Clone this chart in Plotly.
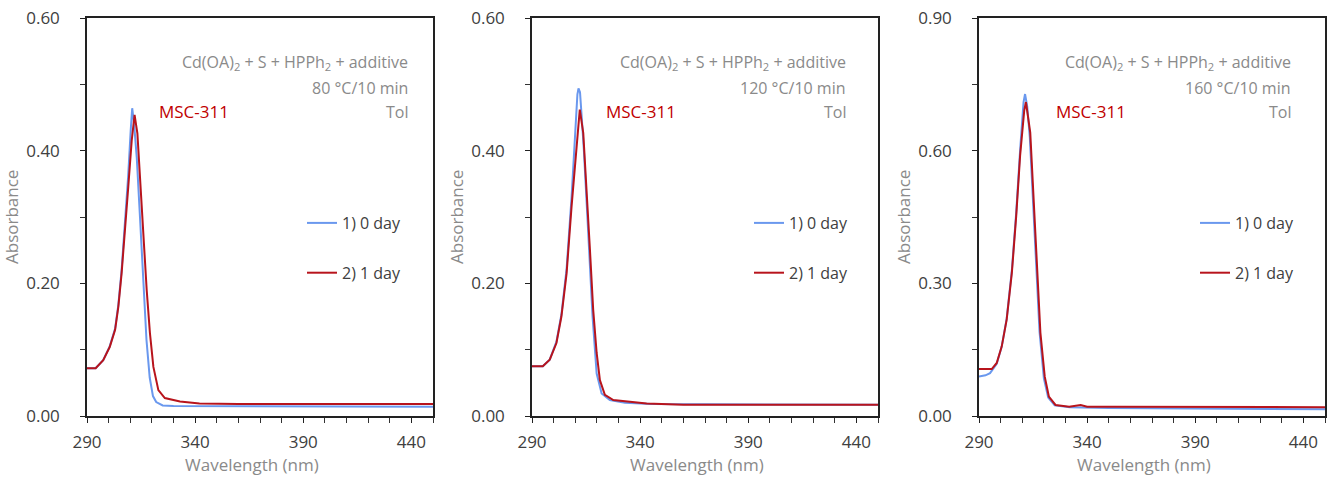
import plotly.graph_objects as go

# ---------------- data ----------------
p1_blue_x = [290, 294, 297.5, 300.5, 303, 304.5, 306, 307.5, 309, 310.2, 310.9, 311.8, 313, 314.5, 316, 317.5, 319, 320.5, 322, 325, 330, 340, 370, 450]
p1_blue_y = [0.072, 0.072, 0.084, 0.105, 0.132, 0.168, 0.22, 0.285, 0.36, 0.43, 0.464, 0.44, 0.39, 0.30, 0.20, 0.115, 0.058, 0.030, 0.021, 0.016, 0.015, 0.015, 0.014, 0.014]
p1_red_x = [290, 294, 297.5, 300.5, 303, 304.5, 306, 307.6, 309.1, 310.7, 312, 313.3, 314.5, 316, 317.6, 319.1, 320.7, 323, 326, 333, 342, 360, 400, 450]
p1_red_y = [0.072, 0.072, 0.084, 0.104, 0.130, 0.165, 0.215, 0.276, 0.346, 0.416, 0.454, 0.426, 0.356, 0.275, 0.19, 0.125, 0.074, 0.039, 0.027, 0.022, 0.019, 0.018, 0.018, 0.018]

p2_blue_x = [290, 295, 298.2, 301.3, 303.6, 306, 308.3, 310, 311, 311.5, 312.2, 313, 314, 316, 318, 319.9, 322.2, 326, 333, 345, 400, 450]
p2_blue_y = [0.075, 0.075, 0.085, 0.112, 0.153, 0.222, 0.33, 0.43, 0.485, 0.494, 0.488, 0.45, 0.40, 0.276, 0.15, 0.064, 0.034, 0.024, 0.02, 0.018, 0.017, 0.017]
p2_red_x = [290, 295, 298.2, 301.3, 303.6, 306, 308.3, 310.3, 312.1, 313.7, 315.2, 316.8, 318.3, 319.9, 321.4, 323.7, 327.6, 333.8, 343, 360, 400, 450]
p2_red_y = [0.075, 0.075, 0.085, 0.11, 0.15, 0.215, 0.316, 0.40, 0.462, 0.427, 0.346, 0.25, 0.16, 0.095, 0.054, 0.032, 0.024, 0.022, 0.019, 0.017, 0.017, 0.017]

p3_blue_x = [290, 293, 295.1, 298.2, 300.5, 302.8, 305.2, 307.2, 309, 310.6, 311.3, 312.3, 313.5, 315, 316.5, 318, 320, 322, 325, 332, 350, 400, 450]
p3_blue_y = [0.089, 0.092, 0.097, 0.118, 0.157, 0.22, 0.33, 0.46, 0.60, 0.71, 0.728, 0.70, 0.63, 0.49, 0.33, 0.19, 0.085, 0.042, 0.024, 0.02, 0.018, 0.016, 0.015]
p3_red_x = [290, 295.9, 298.2, 300.5, 302.8, 305.2, 307.2, 309, 310.9, 311.7, 313.7, 315.3, 316.8, 318.4, 320.4, 322.3, 325.4, 331.7, 337, 340, 352, 400, 450]
p3_red_y = [0.106, 0.106, 0.12, 0.157, 0.218, 0.324, 0.452, 0.588, 0.69, 0.71, 0.641, 0.49, 0.324, 0.188, 0.089, 0.044, 0.025, 0.021, 0.025, 0.021, 0.021, 0.020, 0.020]

series_names = ["1) 0 day", "2) 1 day"]
temps = ["80 °C/10 min", "120 °C/10 min", "160 °C/10 min"]
y_max = [0.60, 0.60, 0.90]
y_major = [0.20, 0.20, 0.30]
x_ticks = [290, 340, 390, 440]
recipe = "Cd(OA)<sub>2</sub> + S + HPPh<sub>2</sub> + additive"
solvent = "Tol"
sample = "MSC-311"

# ---------------- style ----------------
W, H = 1338, 481
BLUE = "#6A98EE"
RED = "#B8141C"
FONT = "Open Sans"
GRAY = "#8A8A8A"
DARK = "#404040"

# panel pixel boxes (left, right, top, bottom)
boxes = [(87, 433, 18, 416), (532, 878, 18, 416), (979, 1325, 18, 416)]
text_right = [409, 847, 1292]
msc_left = [157, 604, 1054]
legend_left = [302, 749, 1195]

def fx(p):
    return p / W

def fy(p):
    return 1 - p / H

fig = go.Figure()
data = [
    (p1_blue_x, p1_blue_y, p1_red_x, p1_red_y),
    (p2_blue_x, p2_blue_y, p2_red_x, p2_red_y),
    (p3_blue_x, p3_blue_y, p3_red_x, p3_red_y),
]
for i, (bx, by, rx, ry) in enumerate(data):
    sfx = "" if i == 0 else str(i + 1)
    leg = "legend" + sfx
    fig.add_trace(go.Scatter(x=bx, y=by, mode="lines", name=series_names[0],
                             line=dict(color=BLUE, width=2), xaxis="x" + sfx, yaxis="y" + sfx,
                             legend=leg, legendgroup=f"b{i}"))
    fig.add_trace(go.Scatter(x=rx, y=ry, mode="lines", name=series_names[1],
                             line=dict(color=RED, width=2), xaxis="x" + sfx, yaxis="y" + sfx,
                             legend=leg, legendgroup=f"r{i}"))

layout = dict(
    width=W, height=H, margin=dict(l=0, r=0, t=0, b=0),
    paper_bgcolor="white", plot_bgcolor="white",
    font=dict(family=FONT, size=16, color=DARK),
    showlegend=True,
)
annotations = []
for i, (l, r, t, b) in enumerate(boxes):
    sfx = "" if i == 0 else str(i + 1)
    layout["xaxis" + sfx] = dict(
        domain=[fx(l), fx(r)], anchor="y" + sfx, range=[290, 450], automargin=False,
        tickvals=x_ticks, ticks="outside", ticklen=5, tickwidth=1.2, tickcolor="#222",
        minor=dict(dtick=10, tick0=290, ticks="outside", ticklen=5, tickwidth=1, tickcolor="#333"),
        showline=True, linecolor="#222", linewidth=1.5, mirror=True,
        showgrid=False, zeroline=False, ticklabelstandoff=5,
        tickfont=dict(family=FONT, size=17, color=DARK),
    )
    layout["yaxis" + sfx] = dict(
        domain=[fy(b), fy(t)], anchor="x" + sfx, range=[0, y_max[i]], automargin=False,
        dtick=y_major[i], tick0=0, tickformat=".2f", ticks="outside", ticklen=5,
        tickwidth=1.2, tickcolor="#222",
        minor=dict(dtick=y_major[i] / 2, ticks="outside", ticklen=5, tickwidth=1, tickcolor="#333"),
        showline=True, linecolor="#222", linewidth=1.5, mirror=True,
        showgrid=False, zeroline=False, ticklabelstandoff=17,
        tickfont=dict(family=FONT, size=17, color=DARK),
    )
    # overlay axis drawing the inner half of the major x ticks
    layout["xaxis" + str(i + 4)] = dict(
        domain=[fx(l), fx(r)], anchor="y" + sfx, overlaying="x" + sfx, range=[290, 450],
        automargin=False, tickvals=x_ticks, ticks="inside", ticklen=5, tickwidth=1.2,
        tickcolor="#222", showticklabels=False, showline=False, showgrid=False, zeroline=False,
    )
    layout["legend" + sfx] = dict(
        x=fx(legend_left[i]), xanchor="left", y=fy(206), yanchor="top",
        bgcolor="rgba(0,0,0,0)", font=dict(family=FONT, size=16, color=DARK),
        tracegroupgap=26, itemwidth=30, traceorder="grouped",
    )
    # text block
    for txt, yy in [(recipe, 62), (temps[i], 88), (solvent, 112)]:
        annotations.append(dict(text=txt, x=fx(text_right[i] + 1), y=fy(yy), xref="paper", yref="paper",
                                xanchor="right", yanchor="middle", showarrow=False,
                                font=dict(family=FONT, size=16, color=GRAY)))
    annotations.append(dict(text=sample, x=fx(msc_left[i]), y=fy(111), xref="paper", yref="paper",
                            xanchor="left", yanchor="middle", showarrow=False,
                            font=dict(family=FONT, size=17, color="#C00000")))
    annotations.append(dict(text="Wavelength (nm)", x=fx((l + r) / 2 - 8), y=fy(464), xref="paper", yref="paper",
                            xanchor="center", yanchor="middle", showarrow=False,
                            font=dict(family=FONT, size=17, color=GRAY)))
    annotations.append(dict(text="Absorbance", x=fx(l - 75), y=fy(217), xref="paper", yref="paper",
                            xanchor="center", yanchor="middle", showarrow=False, textangle=-90,
                            font=dict(family=FONT, size=17, color=GRAY)))
layout["annotations"] = annotations
fig.update_layout(**layout)
fig.write_html("out.html")
